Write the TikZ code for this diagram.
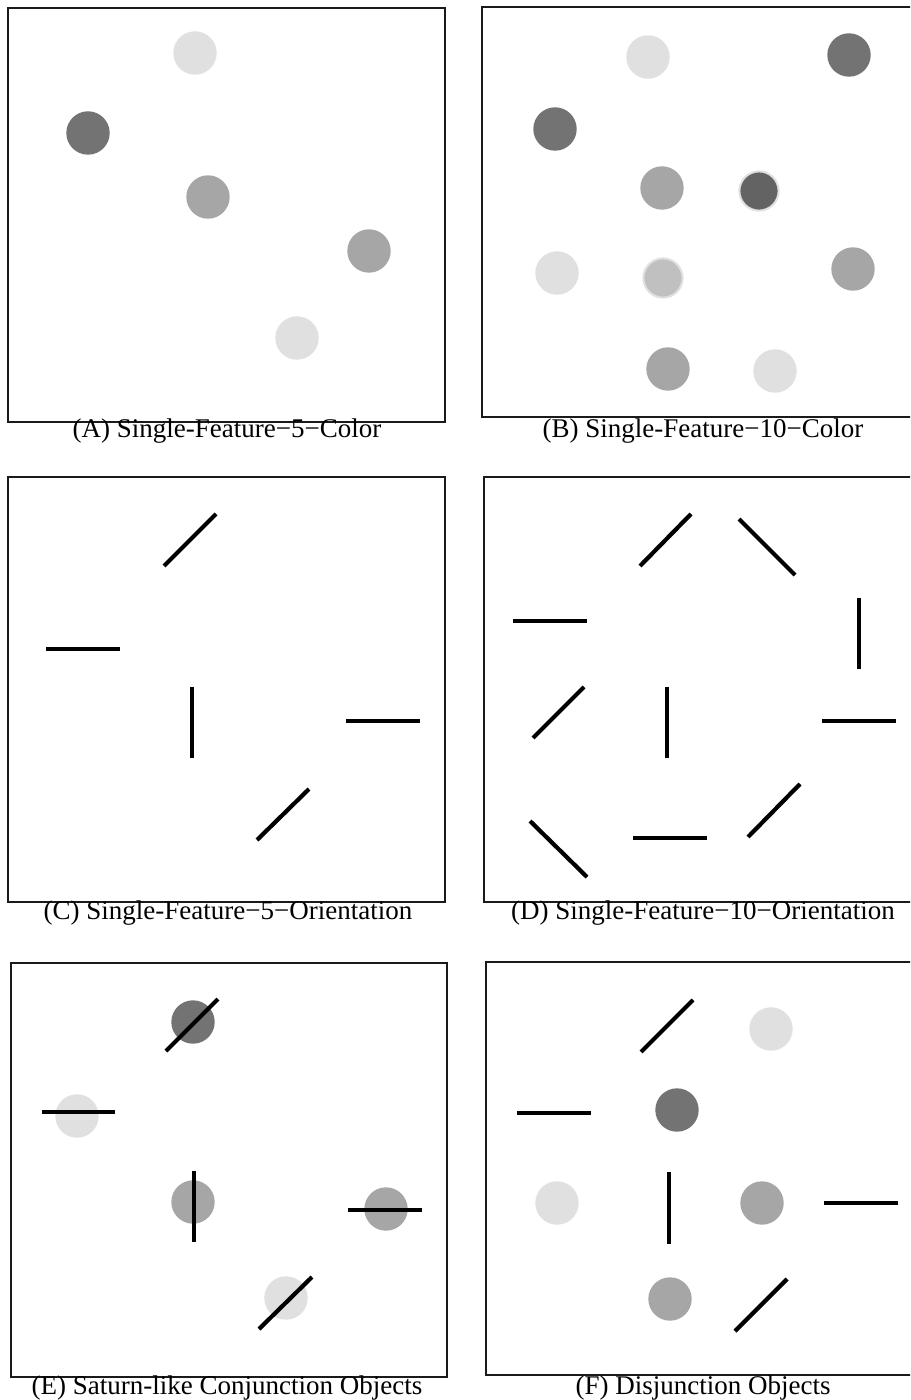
\documentclass[tikz,border=0pt]{standalone}
\usepackage{fontspec}
\setmainfont{Liberation Serif}
\definecolor{cLight}{HTML}{E0E0E0}
\definecolor{cMid}{HTML}{A6A6A6}
\definecolor{cDark}{HTML}{737373}
\definecolor{cDarker}{HTML}{636363}
\definecolor{cPale}{HTML}{C0C0C0}
\definecolor{cFrame}{HTML}{1A1A1A}
\begin{document}
\begin{tikzpicture}[x=0.5pt,y=-0.5pt,
  frame/.style={draw=cFrame,line width=0.85pt},
  disc/.style={circle,inner sep=0pt,minimum size=21.7pt,draw=none},
  ringdisc/.style={circle,inner sep=0pt,minimum size=19.6pt,draw=cLight,line width=1pt},
  bar/.style={line width=2.1pt,line cap=butt},
  captext/.style={anchor=base,inner sep=0pt,font=\fontsize{13.5pt}{15pt}\selectfont}]
\path[use as bounding box,fill=white] (0,0) rectangle (910,1400);
\clip (0,0) rectangle (910,1400);
% ---------- Panel A ----------
\draw[frame] (8,8) rectangle (445,422);
\node[disc,fill=cLight] (a1) at (195,53) {};
\node[disc,fill=cDark]  (a2) at (88,133) {};
\node[disc,fill=cMid]   (a3) at (208,197) {};
\node[disc,fill=cMid]   (a4) at (369,251) {};
\node[disc,fill=cLight] (a5) at (297,338) {};
\node[captext] (capA) at (227,438) {(A) Single-Feature−5−Color};
% ---------- Panel B ----------
\draw[frame] (920,7) -- (482,7) -- (482,417) -- (920,417);
\node[disc,fill=cLight] (b1) at (648,57) {};
\node[disc,fill=cDark]  (b2) at (849,55) {};
\node[disc,fill=cDark]  (b3) at (555,129) {};
\node[disc,fill=cMid]   (b4) at (662,188) {};
\node[ringdisc,fill=cDarker] (b5) at (759,191) {};
\node[disc,fill=cLight] (b6) at (557,273) {};
\node[ringdisc,fill=cPale] (b7) at (663,278) {};
\node[disc,fill=cMid]   (b8) at (853,269) {};
\node[disc,fill=cMid]   (b9) at (668,369) {};
\node[disc,fill=cLight] (b10) at (775,371) {};
\node[captext] (capB) at (703,438) {(B) Single-Feature−10−Color};
% ---------- Panel C ----------
\draw[frame] (8,477) rectangle (445,902);
\draw[bar] (164,566) -- (216,514);
\draw[bar] (46,649) -- (120,649);
\draw[bar] (192,687) -- (192,758);
\draw[bar] (346,721) -- (420,721);
\draw[bar] (257,840) -- (309,789);
\node[captext] (capC) at (228,919) {(C) Single-Feature−5−Orientation};
% ---------- Panel D ----------
\draw[frame] (920,477) -- (484,477) -- (484,902) -- (920,902);
\draw[bar] (640,566) -- (691,514);
\draw[bar] (739,519) -- (795,575);
\draw[bar] (513,621) -- (587,621);
\draw[bar] (859,598) -- (859,669);
\draw[bar] (533,738) -- (584,687);
\draw[bar] (667,687) -- (667,758);
\draw[bar] (822,721) -- (896,721);
\draw[bar] (530,821) -- (587,877);
\draw[bar] (633,838) -- (707,838);
\draw[bar] (748,837) -- (800,784);
\node[captext] (capD) at (703,919) {(D) Single-Feature−10−Orientation};
% ---------- Panel E ----------
\draw[frame] (11,963) rectangle (447,1377);
\node[disc,fill=cDark]  (e1) at (193,1022) {};
\node[disc,fill=cLight] (e2) at (77,1116) {};
\node[disc,fill=cMid]   (e3) at (193,1202) {};
\node[disc,fill=cMid]   (e4) at (386,1209) {};
\node[disc,fill=cLight] (e5) at (286,1298) {};
\draw[bar] (166,1051) -- (218,999);
\draw[bar] (42,1112) -- (115,1112);
\draw[bar] (194,1171) -- (194,1242);
\draw[bar] (348,1210) -- (422,1210);
\draw[bar] (259,1329) -- (312,1277);
\node[captext] (capE) at (227,1394) {(E) Saturn-like Conjunction Objects};
% ---------- Panel F ----------
\draw[frame] (920,962) -- (486,962) -- (486,1375) -- (920,1375);
\draw[bar] (641,1052) -- (693,1000);
\node[disc,fill=cLight] (f1) at (771,1029) {};
\draw[bar] (517,1113) -- (591,1113);
\node[disc,fill=cDark]  (f2) at (677,1110) {};
\node[disc,fill=cLight] (f3) at (557,1203) {};
\draw[bar] (669,1172) -- (669,1244);
\node[disc,fill=cMid]   (f4) at (762,1203) {};
\draw[bar] (824,1203) -- (898,1203);
\node[disc,fill=cMid]   (f5) at (670,1299) {};
\draw[bar] (735,1331) -- (787,1279);
\node[captext] (capF) at (703,1394) {(F) Disjunction Objects};
\end{tikzpicture}
\end{document}
